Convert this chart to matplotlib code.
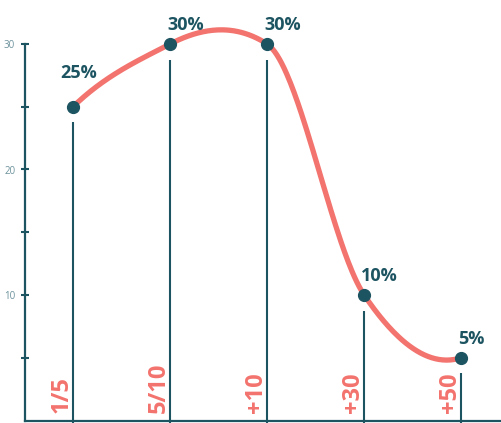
import numpy as np
import matplotlib
matplotlib.use('Agg')
import matplotlib.pyplot as plt

plt.rcParams['font.family'] = ['Open Sans', 'DejaVu Sans']

categories = ['1/5', '5/10', '+10', '+30', '+50']
shares = [25, 30, 30, 10, 5]
share_labels = ['25%', '30%', '30%', '10%', '5%']
y_major = [10, 20, 30]
y_minor = [5, 15, 25]

teal = '#1d5461'
coral = '#f3736e'
tick_grey = '#6d929c'


def akima(x, y, n=80):
    # Akima spline, ends extended the classic way
    x = np.asarray(x, float)
    y = np.asarray(y, float)
    m = np.diff(y) / np.diff(x)
    m = np.concatenate([[3 * m[0] - 2 * m[1], 2 * m[0] - m[1]], m,
                        [2 * m[-1] - m[-2], 3 * m[-1] - 2 * m[-2]]])
    w = np.abs(np.diff(m))
    t = np.empty(len(x))
    for i in range(len(x)):
        w1, w2 = w[i + 2], w[i]
        if w1 + w2 == 0:
            t[i] = (m[i + 1] + m[i + 2]) / 2
        else:
            t[i] = (w1 * m[i + 1] + w2 * m[i + 2]) / (w1 + w2)
    xs_out, ys_out = [x[0]], [y[0]]
    for i in range(len(x) - 1):
        h = x[i + 1] - x[i]
        s = np.linspace(0, 1, n)[1:]
        h00 = 2 * s**3 - 3 * s**2 + 1
        h10 = s**3 - 2 * s**2 + s
        h01 = -2 * s**3 + 3 * s**2
        h11 = s**3 - s**2
        xs_out.extend(x[i] + s * h)
        ys_out.extend(h00 * y[i] + h10 * h * t[i] + h01 * y[i + 1]
                      + h11 * h * t[i + 1])
    return np.array(xs_out), np.array(ys_out)


fig = plt.figure(figsize=(5.01, 4.23), dpi=100)
ax = fig.add_axes([25 / 501, 2.5 / 423, 476 / 501, 376.5 / 423])
xs = np.arange(len(categories))
ax.set_xlim(-0.495, 4.41)
ax.set_ylim(0, 30)

for s in ['top', 'right']:
    ax.spines[s].set_visible(False)
for s in ['left', 'bottom']:
    ax.spines[s].set_color(teal)
    ax.spines[s].set_linewidth(1.6)

ax.set_xticks([])
ax.set_yticks(y_major)
ax.set_yticks(y_minor, minor=True)
ax.tick_params(axis='y', which='both', direction='inout', length=6,
               width=1.5, color=teal, labelsize=7, labelcolor=tick_grey,
               pad=4)

# drop lines under each point
tops = np.array(shares) - 1.25
ax.vlines(xs, -0.25, tops, color=teal, lw=1.5, clip_on=False, zorder=2)

# smooth line through the points
cx, cy = akima(xs, shares)
ax.plot(cx, cy, color=coral, lw=3.8, solid_capstyle='round',
        clip_on=False, zorder=3)
ax.plot(xs, shares, 'o', color=teal, ms=8.5, clip_on=False, zorder=4)

offsets = [(-9, 21), (-2, 10), (-2, 10), (-2, 10), (-2, 10)]
for x, y, lab, off in zip(xs, shares, share_labels, offsets):
    ax.annotate(lab, (x, y), xytext=off, textcoords='offset points',
                ha='left', va='baseline', fontsize=13, fontweight='bold',
                color=teal, zorder=5)

for x, cat in zip(xs, categories):
    ax.annotate(cat, (x, 0), xytext=(-3.6, 5.4), textcoords='offset points',
                rotation=90, rotation_mode='anchor', ha='left',
                va='baseline', fontsize=17, fontweight='bold', color=coral)

fig.savefig('out.png', dpi=100)
